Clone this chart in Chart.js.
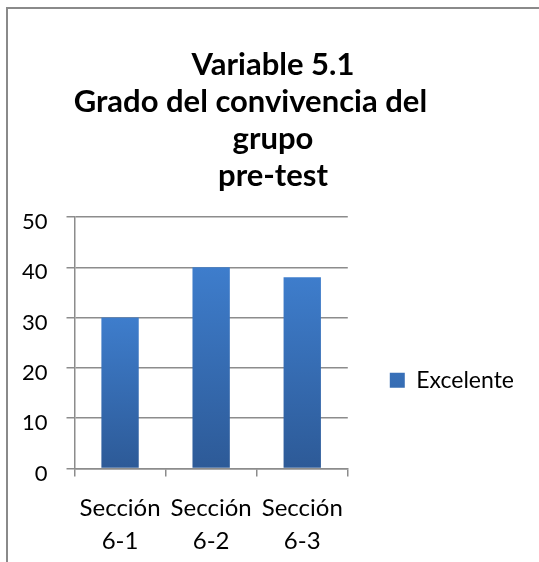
<!DOCTYPE html>
<html>
<head>
<meta charset="utf-8">
<script src="https://cdn.jsdelivr.net/npm/chart.js@4"></script>
<style>
  html, body { margin: 0; padding: 0; background: #fff; overflow: hidden; }
  body { width: 539px; height: 562px; position: relative; }
  #frame {
    position: absolute; left: 6px; top: 7px; width: 1000px; height: 1000px;
    border-left: 2px solid #8a8a8a; border-top: 2px solid #8a8a8a;
  }
  #chart { position: absolute; left: 0; top: 0; }
</style>
</head>
<body>
<div id="frame"></div>
<canvas id="chart" width="539" height="562"></canvas>
<script>
// Datos
const titleLines = ['Variable 5.1', 'Grado del convivencia del      ', 'grupo', 'pre-test'];
const categories = [['Sección', '6-1'], ['Sección', '6-2'], ['Sección', '6-3']];
const seriesName = 'Excelente';
const seriesValues = [30, 40, 38];
const yTicks = [0, 10, 20, 30, 40, 50];

const gridGray = '#8c8c8c';

// Degradado vertical por barra, como en Excel
function barFill(context) {
    const flat = '#3a6fb5';
    if (context.type !== 'data') return flat;
    const chart = context.chart;
    if (!chart.chartArea) return flat;
    const yScale = chart.scales.y;
    const top = yScale.getPixelForValue(context.parsed.y);
    const bottom = yScale.getPixelForValue(0);
    const g = chart.ctx.createLinearGradient(0, top, 0, bottom);
    g.addColorStop(0, '#3e7dcc');
    g.addColorStop(1, '#2d5a97');
    return g;
}

function renderChart() {
    const ctx = document.getElementById('chart');

    new Chart(ctx, {
        type: 'bar',
        data: {
            labels: categories,
            datasets: [{
                label: seriesName,
                data: seriesValues,
                backgroundColor: barFill,
                borderWidth: 0,
                barPercentage: 0.41,
                categoryPercentage: 1
            }]
        },
        options: {
            responsive: false,
            animation: false,
            devicePixelRatio: 1,
            layout: {
                padding: { left: 22, right: 15, top: 0, bottom: 4 }
            },
            plugins: {
                tooltip: { enabled: false },
                title: {
                    display: true,
                    text: titleLines,
                    color: '#000',
                    font: { family: 'Lato', size: 31, weight: 'bold', lineHeight: 37 / 31 },
                    padding: { top: 46, bottom: 23 }
                },
                legend: {
                    position: 'right',
                    fullSize: false,
                    maxWidth: 260,
                    // título vacío: sólo baja la entrada de la leyenda
                    title: {
                        display: true,
                        text: '',
                        font: { size: 10, lineHeight: 1 },
                        padding: { top: 65, bottom: 0 }
                    },
                    labels: {
                        color: '#000',
                        boxWidth: 15,
                        boxHeight: 15,
                        padding: 42,
                        font: { family: 'Lato', size: 23 }
                    }
                }
            },
            scales: {
                x: {
                    offset: true,
                    afterFit: scale => { scale.height -= scale.options.ticks.padding; },
                    grid: {
                        offset: true,
                        drawOnChartArea: false,
                        drawTicks: true,
                        tickLength: 8,
                        color: gridGray,
                        lineWidth: 1.5
                    },
                    border: { display: true, color: gridGray, width: 1.5 },
                    ticks: {
                        color: '#000',
                        padding: 15.5,
                        maxRotation: 0,
                        font: { family: 'Lato', size: 24, lineHeight: 33 / 24 }
                    }
                },
                y: {
                    min: 0,
                    max: 50,
                    afterBuildTicks: scale => {
                        scale.ticks = yTicks.map(v => ({ value: v }));
                    },
                    afterFit: scale => { scale.width -= scale.options.ticks.padding; },
                    grid: {
                        drawTicks: true,
                        tickLength: 8,
                        color: gridGray,
                        lineWidth: 1.5
                    },
                    border: { display: true, color: gridGray, width: 1.5 },
                    ticks: {
                        color: '#000',
                        padding: 19,
                        labelOffset: 5,
                        font: { family: 'Lato', size: 22 }
                    }
                }
            }
        }
    });
}

Promise.all([
    document.fonts.load('bold 31px Lato'),
    document.fonts.load('24px Lato')
]).catch(() => null).then(renderChart);
</script>
</body>
</html>
